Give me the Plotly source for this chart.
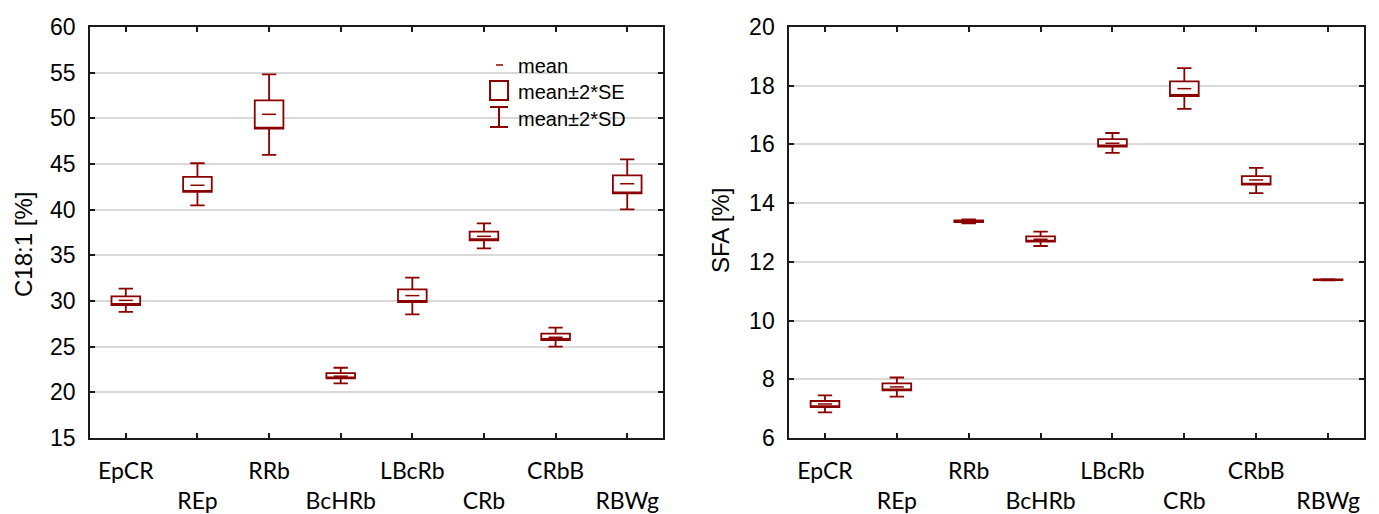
import plotly.graph_objects as go

# ---------------- data ----------------
categories = ["EpCR", "REp", "RRb", "BcHRb", "LBcRb", "CRb", "CRbB", "RBWg"]

c181_mean = [30.07, 42.67, 50.44, 21.77, 30.59, 37.08, 26.03, 42.84]
c181_se_low = [29.56, 41.94, 48.87, 21.52, 29.89, 36.65, 25.73, 41.78]
c181_se_high = [30.50, 43.58, 51.97, 22.10, 31.28, 37.60, 26.43, 43.75]
c181_sd_low = [28.80, 40.48, 45.99, 20.97, 28.54, 35.77, 25.00, 40.03]
c181_sd_high = [31.36, 45.08, 54.82, 22.69, 32.56, 38.51, 27.09, 45.50]

sfa_mean = [7.16, 7.74, 13.38, 12.77, 16.04, 17.90, 14.79, 11.39]
sfa_se_low = [7.05, 7.62, 13.35, 12.69, 15.93, 17.65, 14.63, 11.38]
sfa_se_high = [7.26, 7.86, 13.41, 12.87, 16.18, 18.15, 14.92, 11.40]
sfa_sd_low = [6.87, 7.41, 13.31, 12.54, 15.71, 17.21, 14.34, 11.37]
sfa_sd_high = [7.45, 8.06, 13.45, 13.03, 16.39, 18.60, 15.20, 11.41]

legend_labels = ["mean", "mean±2*SE", "mean±2*SD"]
y_titles = ["C18:1 [%]", "SFA [%]"]

# staggered tick labels (odd ones on a second line)
tick_text = [c if i % 2 == 0 else "<br>" + c for i, c in enumerate(categories)]

RED = "#8b0000"
GRID = "#d9d9d9"
AXC = "#1a1a1a"

fig = go.Figure()


def add_panel(xa, ya, mean, se_lo, se_hi, sd_lo, sd_hi):
    fig.add_trace(go.Box(
        x=categories, q1=se_lo, median=se_lo, q3=se_hi,
        lowerfence=sd_lo, upperfence=sd_hi,
        width=0.4, whiskerwidth=0.5, fillcolor="white",
        line=dict(color=RED, width=1.8), boxpoints=False,
        showlegend=False, xaxis=xa, yaxis=ya, hoverinfo="skip"))
    fig.add_trace(go.Scatter(
        x=categories, y=mean, mode="markers",
        marker=dict(symbol="line-ew", size=10, line=dict(width=1.5, color=RED)),
        showlegend=False, xaxis=xa, yaxis=ya, hoverinfo="skip"))


add_panel("x", "y", c181_mean, c181_se_low, c181_se_high, c181_sd_low, c181_sd_high)
add_panel("x2", "y2", sfa_mean, sfa_se_low, sfa_se_high, sfa_sd_low, sfa_sd_high)

xcommon = dict(type="category", range=[-0.5, 7.5], tickmode="array",
               tickvals=categories, ticktext=tick_text,
               ticks="inside", ticklen=5, tickwidth=1.5, tickcolor=AXC,
               showline=True, linecolor=AXC, linewidth=1.5, mirror="ticks",
               showgrid=False, zeroline=False, ticklabelstandoff=12,
               tickfont=dict(family="Lato, Carlito, sans-serif", size=23, color="black"))
ycommon = dict(ticks="inside", ticklen=5, tickwidth=1.5, tickcolor=AXC,
               showline=True, linecolor=AXC, linewidth=1.5, mirror="ticks",
               showgrid=True, gridcolor=GRID, gridwidth=1.5, zeroline=False,
               ticklabelstandoff=8,
               tickfont=dict(family="Liberation Sans, Arial", size=23, color="black"))

fig.update_layout(
    template="none",
    width=1379, height=514,
    margin=dict(l=90, r=15, t=27, b=76),
    paper_bgcolor="white", plot_bgcolor="white",
    font=dict(family="Liberation Sans, Arial", color="black"),
    showlegend=False,
    xaxis=dict(domain=[0, 0.4498], anchor="y", **xcommon),
    yaxis=dict(domain=[0, 1], anchor="x", range=[15, 60], dtick=5, **ycommon),
    xaxis2=dict(domain=[0.5487, 1], anchor="y2", **xcommon),
    yaxis2=dict(domain=[0, 1], anchor="x2", range=[6, 20], dtick=2, **ycommon),
)


# pixel -> paper helpers for text/legend placement
def px2paper(px):
    return (px - 90) / 1274.0


def py2paper(py):
    return (438 - py) / 411.0


# y-axis titles
for title, cx, cy in zip(y_titles, [23, 721], [245, 231]):
    fig.add_annotation(text=title, xref="paper", yref="paper",
                       x=px2paper(cx), y=py2paper(cy), xanchor="center", yanchor="middle",
                       textangle=-90, showarrow=False,
                       font=dict(family="Liberation Sans, Arial", size=24, color="black"))


# ---------------- custom legend (left panel) ----------------
def fx(px):
    return (px - 90) / 573.0


def fy(py):
    return (438 - py) / 411.0


lk = dict(xref="x domain", yref="y domain", line=dict(color=RED, width=2))
fig.add_shape(type="line", x0=fx(496), x1=fx(503), y0=fy(65), y1=fy(65),
              xref="x domain", yref="y domain", line=dict(color=RED, width=1.5))
fig.add_shape(type="rect", x0=fx(490), x1=fx(508), y0=fy(81), y1=fy(100), **lk)
fig.add_shape(type="line", x0=fx(499), x1=fx(499), y0=fy(107), y1=fy(127), **lk)
fig.add_shape(type="line", x0=fx(490), x1=fx(508), y0=fy(107), y1=fy(107), **lk)
fig.add_shape(type="line", x0=fx(490), x1=fx(508), y0=fy(127), y1=fy(127), **lk)

for lab, py in zip(legend_labels, [66, 92, 119]):
    fig.add_annotation(text=lab, xref="x domain", yref="y domain",
                       x=fx(516), y=fy(py), xanchor="left", yanchor="middle",
                       showarrow=False,
                       font=dict(family="Liberation Sans, Arial", size=20, color="black"))

fig.write_html("out.html")
